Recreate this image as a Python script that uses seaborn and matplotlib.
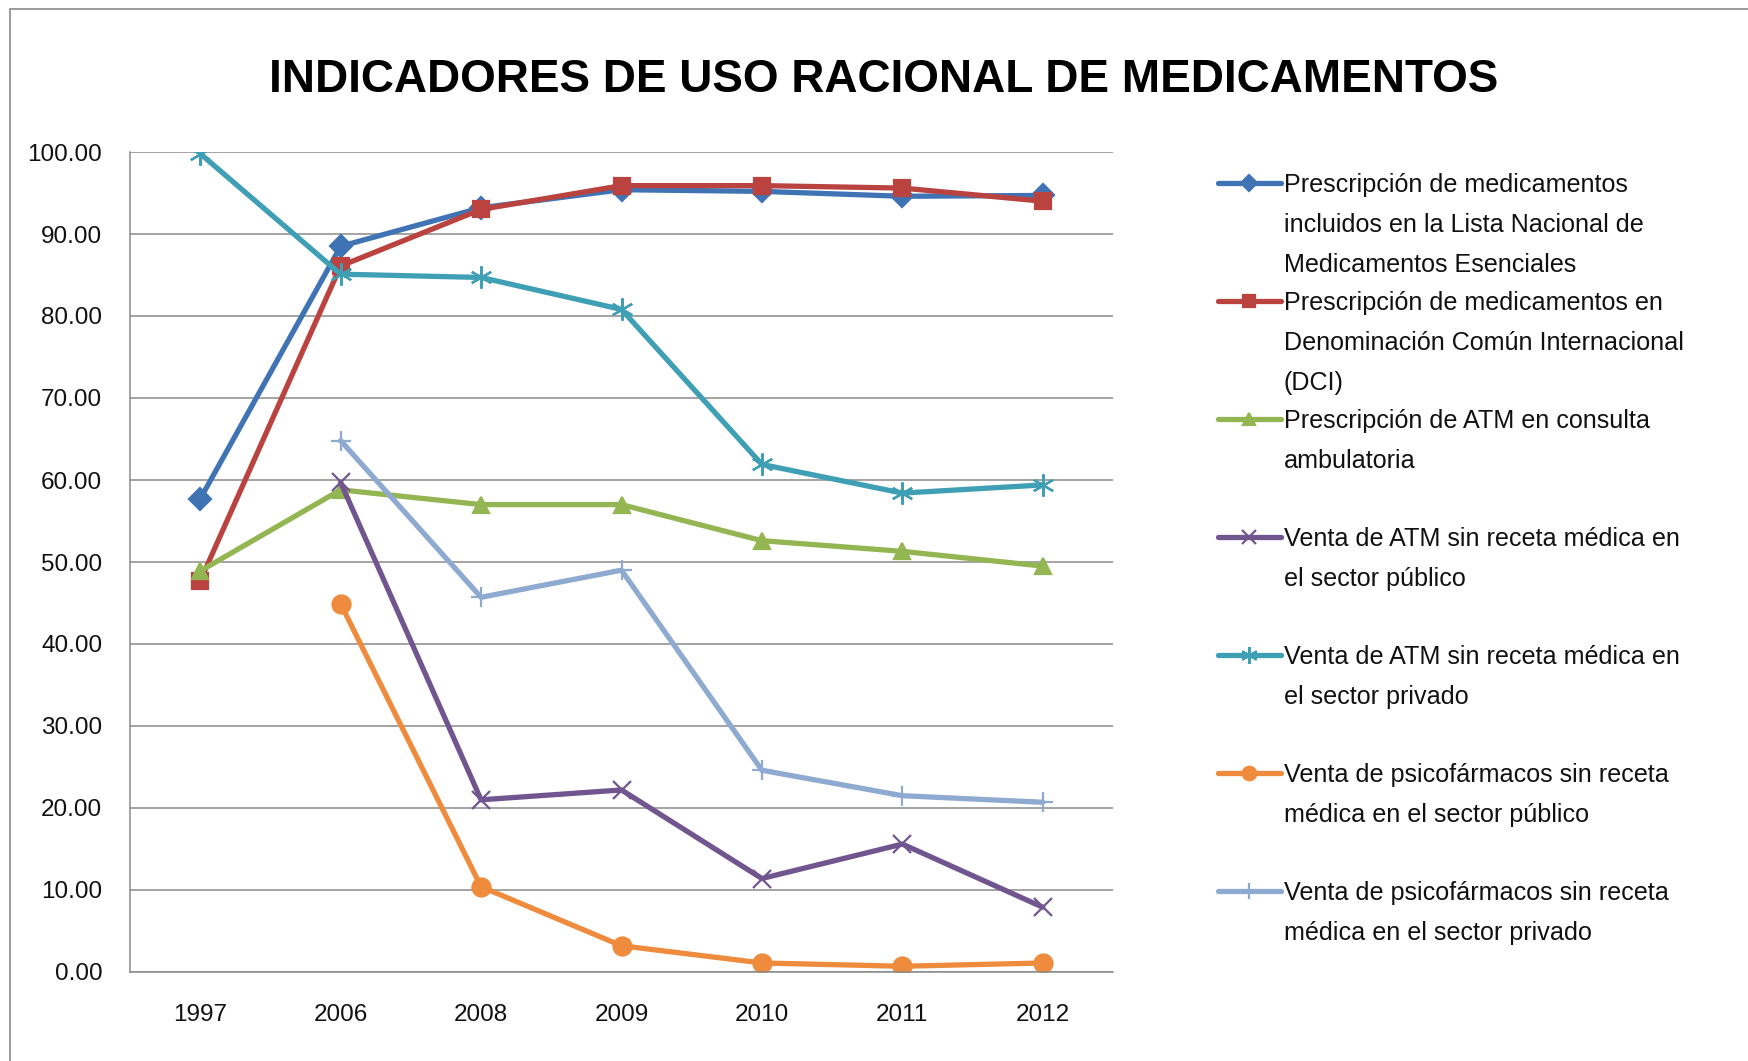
import numpy as np
import pandas as pd
import matplotlib
matplotlib.use("Agg")
import matplotlib.pyplot as plt
from matplotlib import font_manager
from matplotlib.patches import Rectangle
from matplotlib.ticker import FormatStrFormatter, MultipleLocator
import seaborn as sns

# datos
anios = ['1997', '2006', '2008', '2009', '2010', '2011', '2012']
lista_nacional = [57.7, 88.5, 93.2, 95.4, 95.2, 94.6, 94.7]
dci = [47.7, 86.1, 93.0, 95.9, 95.9, 95.6, 94.0]
atm_consulta = [48.9, 58.8, 57.0, 57.0, 52.6, 51.3, 49.5]
atm_publico = [np.nan, 59.7, 21.0, 22.2, 11.4, 15.6, 7.9]
atm_privado = [99.8, 85.1, 84.7, 80.8, 61.9, 58.4, 59.4]
psico_publico = [np.nan, 44.9, 10.4, 3.2, 1.1, 0.7, 1.1]
psico_privado = [np.nan, 64.8, 45.7, 49.0, 24.6, 21.5, 20.7]

etiquetas = [
    "Prescripción de medicamentos\nincluidos en la Lista Nacional de\nMedicamentos Esenciales",
    "Prescripción de medicamentos en\nDenominación Común Internacional\n(DCI)",
    "Prescripción de ATM en consulta\nambulatoria\n",
    "Venta de ATM sin receta médica en\nel sector público\n",
    "Venta de ATM sin receta médica en\nel sector privado\n",
    "Venta de psicofármacos sin receta\nmédica en el sector público\n",
    "Venta de psicofármacos sin receta\nmédica en el sector privado\n",
]
series = [lista_nacional, dci, atm_consulta, atm_publico, atm_privado,
          psico_publico, psico_privado]

colores = ['#3F73B3', '#BA4340', '#93B552', '#71558F', '#3E9FB5', '#EE8B3C', '#8FAAD0']
marcadores = ['D', 's', '^', 'x', (6, 2, 0), 'o', '+']
tam_marcador = [11, 12, 12, 13, 16, 13, 15]


def hay_fuente(nombre):
    try:
        font_manager.findfont(font_manager.FontProperties(family=nombre),
                              fallback_to_default=False)
        return True
    except ValueError:
        return False


sns.set_style("white")
plt.rcParams['font.family'] = ['Liberation Sans', 'DejaVu Sans']

if hay_fuente('Liberation Sans Narrow'):
    fuente_titulo, tam_titulo = ['Liberation Sans Narrow', 'DejaVu Sans'], 39
else:
    fuente_titulo, tam_titulo = ['Liberation Sans', 'DejaVu Sans'], 33

fig = plt.figure(figsize=(17.48, 10.61), dpi=100)
ax = fig.add_axes([130 / 1748, 1 - 972 / 1061, (1113 - 130) / 1748, (972 - 152) / 1061])

posiciones = np.arange(len(anios))
for valores, etiqueta, color, marcador, ms in zip(series, etiquetas, colores,
                                                  marcadores, tam_marcador):
    sns.lineplot(x=posiciones, y=valores, ax=ax, color=color, linewidth=3.8,
                 marker=marcador, markersize=ms, markeredgecolor=color,
                 markerfacecolor=color, markeredgewidth=1.6, label=etiqueta,
                 legend=False)

ax.set_xlim(-0.5, len(anios) - 0.5)
ax.set_ylim(0, 100)
ax.set_xticks(posiciones)
ax.set_xticklabels(anios)
ax.yaxis.set_major_locator(MultipleLocator(10))
ax.yaxis.set_major_formatter(FormatStrFormatter('%.2f'))
ax.set_xlabel('')
ax.set_ylabel('')
ax.tick_params(axis='both', length=0, labelsize=17.5, colors='#111111')
ax.tick_params(axis='y', pad=20)
ax.tick_params(axis='x', pad=23)
ax.grid(axis='y', color='#8a8a8a', linewidth=1.1)
ax.set_axisbelow(True)
for lado in ['top', 'right']:
    ax.spines[lado].set_visible(False)
for lado in ['left', 'bottom']:
    ax.spines[lado].set_color('#8a8a8a')
    ax.spines[lado].set_linewidth(1.1)

# leyenda a la derecha, marcador alineado con la primera linea
handles, labels = ax.get_legend_handles_labels()
leg = ax.legend(handles, labels, loc='upper left',
                bbox_to_anchor=(1218 / 1748, 1 - 173 / 1061),
                bbox_transform=fig.transFigure, frameon=False,
                fontsize=18.1, borderpad=0, borderaxespad=0,
                handlelength=2.5, handleheight=1.07, handletextpad=0.12,
                labelspacing=0.56, markerscale=0.75)
for texto in leg.get_texts():
    texto.set_linespacing(1.84)
    texto.set_color('#111111')
for columna in leg._legend_handle_box.get_children():
    for fila in columna.get_children():
        fila.align = 'top'

fig.text(884 / 1748, 1 - 80 / 1061, 'INDICADORES DE USO RACIONAL DE MEDICAMENTOS',
         ha='center', va='center', fontsize=tam_titulo, fontweight='bold',
         family=fuente_titulo, color='black')

fig.patches.append(Rectangle((10 / 1748, -0.05), 1.2, 1 - 9 / 1061 + 0.05,
                             transform=fig.transFigure, fill=False,
                             edgecolor='#8a8a8a', linewidth=1.2))

fig.savefig('out.png', dpi=100)
